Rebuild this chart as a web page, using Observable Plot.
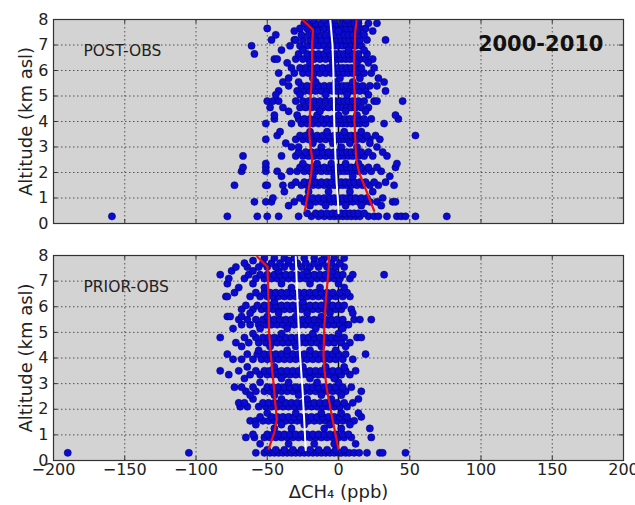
<!DOCTYPE html>
<html>
<head>
<meta charset="utf-8">
<script src="https://cdn.jsdelivr.net/npm/d3@7"></script>
<script src="https://cdn.jsdelivr.net/npm/@observablehq/plot@0.6"></script>
<style>
  html, body { margin: 0; padding: 0; background: #fff; }
  #chart svg { display: block; }
</style>
</head>
<body>
<div id="chart"></div>
<script>
// ---------- tick labels ----------
const xTicks = [-200, -150, -100, -50, 0, 50, 100, 150, 200];
const yTicks = [0, 1, 2, 3, 4, 5, 6, 7, 8];
const xGrid = [-150, -100, -50, 0, 50, 100, 150];
const yGrid = [1, 2, 3, 4, 5, 6, 7];

// ---------- POST-OBS scatter (rows of altitude, km) ----------
const postRowAlt = [0.28, 0.4, 0.85, 1.0, 1.5, 1.62, 2.05, 2.2, 2.35, 2.65, 2.8, 3.0,
  3.3, 3.45, 3.6, 3.92, 4.1, 4.25, 4.55, 4.8, 5.2, 5.4, 5.55, 5.9, 6.1, 6.45, 6.65,
  6.97, 7.2, 7.4, 7.65, 7.85, 7.98,
  0.7, 1.25, 1.85, 3.15, 4.4, 5.05, 5.7, 6.3, 6.8, 7.55];
const postRowX = [
  [-159, -78, -57, -50, -42, -28, -19, -14, -10, -6, -3, 0, 3, 6, 9, 12, 15, 21, 25, 28, 34, 41, 44, 47, 54, 76],
  [-22, -16, -12, -8, -4, -1, 2, 5, 8, 11, 14, 18],
  [-59, -51, -47, -31, -24, -20, -16, -12, -8, -5, -2, 1, 4, 7, 10, 14, 18, 22, 27, 38, 40],
  [-46, -27, -22, -18, -14, -10, -6, -3, 0, 3, 6, 9, 12, 16, 20, 31],
  [-73, -51, -50, -39, -33, -26, -22, -18, -14, -10, -6, -3, 0, 3, 6, 9, 13, 17, 22, 28, 39],
  [-30, -24, -20, -16, -12, -8, -5, -1, 2, 5, 8, 11, 15, 19, 25, 33],
  [-68, -51, -43, -34, -29, -24, -20, -16, -12, -8, -5, -2, 1, 4, 7, 10, 14, 18, 23, 30],
  [-67, -51, -27, -22, -18, -14, -10, -6, -3, 0, 3, 6, 9, 12, 16, 21, 27, 40],
  [-51, -25, -15, -5, 5, 14, 41],
  [-67, -40, -30, -25, -21, -17, -13, -9, -5, -2, 1, 4, 7, 10, 14, 18, 24, 34],
  [-28, -23, -19, -15, -11, -7, -3, 0, 3, 6, 9, 12, 16, 21, 31],
  [-33, -28, -12, 2, 13, 27],
  [-51, -30, -25, -21, -17, -13, -9, -5, -2, 1, 4, 7, 10, 13, 17, 22, 29],
  [-43, -27, -23, -19, -15, -11, -7, -3, 0, 3, 6, 9, 12, 15, 20, 26, 54],
  [-41, -20, -8, 4, 16],
  [-51, -33, -26, -22, -18, -14, -10, -6, -3, 0, 3, 6, 9, 12, 15, 19, 32],
  [-45, -28, -24, -20, -16, -12, -8, -4, -1, 2, 5, 8, 11, 14, 18, 23, 42],
  [-45, -29, -15, 0, 13, 40],
  [-48, -39, -27, -23, -19, -15, -11, -7, -3, 0, 3, 6, 9, 12, 16, 21],
  [-50, -46, -42, -30, -25, -21, -17, -13, -9, -5, -2, 1, 4, 7, 10, 14, 18, 25, 27, 45],
  [-42, -29, -24, -20, -16, -12, -8, -4, -1, 2, 5, 8, 11, 15, 19, 33],
  [-35, -26, -22, -18, -14, -10, -6, -3, 0, 3, 6, 9, 13, 17, 22, 27],
  [-39, -28, -16, -2, 10, 32],
  [-42, -31, -25, -21, -17, -13, -9, -5, -2, 1, 4, 7, 10, 14, 18, 23],
  [-33, -27, -23, -19, -15, -11, -7, -3, 0, 3, 6, 9, 12, 16, 25],
  [-45, -43, -30, -25, -21, -17, -13, -9, -5, -1, 2, 5, 8, 11, 15, 19, 24],
  [-59, -28, -22, -18, -14, -10, -6, -2, 1, 4, 7, 10, 14, 20],
  [-61, -34, -27, -22, -18, -14, -10, -6, -3, 0, 3, 6, 9, 12, 16],
  [-47, -31, -30, -25, -20, -16, -12, -8, -4, -1, 2, 5, 8, 11, 15, 20, 33],
  [-44, -26, -21, -17, -13, -9, -5, -2, 1, 4, 7, 10, 14, 18],
  [-50, -27, -22, -18, -14, -10, -6, -3, 0, 3, 6, 9, 12, 15, 19],
  [-24, -20, -16, -12, -8, -4, -1, 2, 5, 8, 11, 14, 21, 27],
  [-18, -10, -2, 6, 14],
  [-35, -20, -9, 5, 16, 30],
  [-38, -21, -7, 8, 24],
  [-40, -18, -3, 10, 36],
  [-37, -18, -4, 8, 22],
  [-35, -13, 5, 19],
  [-44, -27, -9, 6, 21],
  [-35, -18, 1, 15, 28],
  [-36, -20, -4, 13, 21],
  [-40, -25, -8, 7, 18],
  [-31, -15, 0, 13, 24]
];

// ---------- PRIOR-OBS scatter ----------
const priorRowAlt = [0.3, 0.42, 0.9, 1.02, 1.25, 1.55, 1.7, 1.85, 2.1, 2.25, 2.4, 2.7, 2.86, 3.05,
  3.35, 3.5, 3.65, 3.95, 4.15, 4.3, 4.6, 4.8, 4.95, 5.3, 5.5, 5.62, 5.9, 6.05, 6.2,
  6.4, 6.55, 6.9, 7.1, 7.25, 7.4, 7.55, 7.7, 7.9,
  0.65, 1.4, 2.55, 3.2, 4.45, 5.15, 5.75, 6.75, 7.8];
const priorRowX = [
  [-190, -105, -58, -52, -48, -45, -42, -39, -36, -33, -30, -27, -24, -21, -18, -15, -12, -9, -6, -3, 0, 2, 5, 7.5, 11, 14.5, 20, 29, 31, 47],
  [-50, -44, -38, -32, -26, -20, -14, -8, -2, 4],
  [-65, -59, -52, -48, -44, -40, -36, -32, -28, -24, -20, -16, -12, -8, -4, 0, 4, 9, 23],
  [-60, -50, -46, -42, -38, -34, -30, -26, -22, -18, -14, -10, -6, -2, 3, 7],
  [-45, -33, -10, 2, 22],
  [-62, -58, -53, -49, -45, -41, -37, -33, -29, -25, -21, -17, -13, -9, -5, -1, 3, 7, 11],
  [-55, -47, -43, -39, -35, -31, -27, -23, -19, -15, -11, -7, -3, 1, 6, 16],
  [-50, -30, -12, 2, 14],
  [-69, -64, -56, -51, -47, -43, -39, -35, -31, -27, -23, -19, -15, -11, -7, -3, 1, 6],
  [-70, -66, -53, -49, -45, -41, -37, -33, -29, -25, -21, -17, -13, -9, -5, -1, 4, 10],
  [-60, -40, -22, -5, 14],
  [-65, -58, -52, -48, -44, -40, -36, -32, -28, -24, -20, -16, -12, -8, -4, 0, 5, 16],
  [-73, -68, -60, -50, -46, -42, -38, -34, -30, -26, -22, -18, -14, -10, -6, -2, 3, 9],
  [-55, -35, -15, 0],
  [-77, -62, -55, -50, -46, -42, -38, -34, -30, -26, -22, -18, -14, -10, -6, -2, 2, 8],
  [-83, -70, -58, -52, -48, -44, -40, -36, -32, -28, -24, -20, -16, -12, -8, -4, 0, 5, 12],
  [-64, -45, -25, -9, 4],
  [-74, -68, -60, -54, -50, -46, -42, -38, -34, -30, -26, -22, -18, -14, -10, -6, -2, 3, 10],
  [-78, -64, -57, -52, -48, -44, -40, -36, -32, -28, -24, -20, -16, -12, -8, -4, 0, 5, 19],
  [-56, -36, -20, -2],
  [-72, -63, -56, -51, -47, -43, -39, -35, -31, -27, -23, -19, -15, -11, -7, -3, 2, 8],
  [-83, -66, -58, -53, -49, -45, -41, -37, -33, -29, -25, -21, -17, -13, -9, -5, -1, 4, 13, 16],
  [-60, -40, -18, 0],
  [-68, -62, -56, -51, -47, -43, -39, -35, -31, -27, -23, -19, -15, -11, -7, -3, 1, 5, 7],
  [-70, -64, -58, -53, -49, -45, -41, -37, -33, -29, -25, -21, -17, -13, -9, -5, -1, 3, 11, 15, 23],
  [-78, -76, -68, -50, -30, -12],
  [-68, -60, -54, -50, -46, -42, -38, -34, -30, -26, -22, -18, -14, -10, -6, -2, 2, 9],
  [-65, -57, -52, -48, -44, -40, -36, -32, -28, -24, -20, -16, -12, -8, -4, 0, 4],
  [-45, -25, -8],
  [-79, -78, -62, -55, -50, -46, -42, -38, -34, -30, -26, -22, -18, -14, -10, -6, -2, 3, 8],
  [-73, -58, -52, -48, -44, -40, -36, -32, -28, -24, -20, -16, -12, -8, -4, 1, 6],
  [-78, -60, -40, -20, 0],
  [-77, -66, -58, -52, -47, -43, -39, -35, -31, -27, -23, -19, -15, -11, -7, -3, 1, 8],
  [-83, -63, -55, -50, -45, -41, -37, -33, -29, -25, -21, -17, -13, -9, -5, -1, 3, 10, 32],
  [-75, -60, -42, -22, -4],
  [-72, -64, -56, -50, -44, -38, -32, -26, -20, -14, -8, -2, 4],
  [-66, -53, -47, -41, -35, -29, -23, -17, -11, -5, 1],
  [-52, -45, -38, -31, -24, -17, -10, -3, 4],
  [-55, -35, -17, -3, 12],
  [-58, -40, -24, -6, 8],
  [-62, -45, -28, -12, 2],
  [-66, -40, -20, -3],
  [-68, -48, -30, -12, 5],
  [-74, -55, -36, -16, 3],
  [-62, -42, -22, -6, 10],
  [-70, -52, -33, -13, 4],
  [-60, -35, -12]
];

// ---------- percentile / median profiles ----------
const postLoAlt = [0.5, 1.0, 1.5, 2.0, 2.5, 3.0, 3.5, 4.0, 4.5, 5.0, 5.5, 6.0, 6.5, 7.0, 7.5, 7.6, 8.0];
const postLoX   = [-23.6, -22, -20.5, -19, -18.5, -19.5, -20.5, -20, -20, -19.5, -19, -18.5, -18.5, -18.5, -18, -18, -25.5];
const postHiAlt = [0.5, 1.0, 1.5, 2.0, 2.5, 3.0, 3.5, 4.0, 4.5, 5.0, 5.5, 6.0, 6.5, 7.0, 7.5, 8.0];
const postHiX   = [25, 21.5, 18, 14.5, 12.5, 12, 11.7, 11.2, 11.5, 11.5, 11, 11, 11, 11.5, 11.7, 12.8];
const postMedAlt = [0.4, 1.0, 1.5, 2.0, 3.0, 4.0, 5.0, 6.0, 7.0, 8.0];
const postMedX   = [0, -0.5, -1.2, -1.7, -2.4, -3, -3.3, -3.6, -4.2, -5.8];

const priorLoAlt = [0.45, 1.1, 1.6, 2.2, 2.8, 3.5, 4.1, 5.0, 6.25, 7.55, 7.95];
const priorLoX   = [-49, -45, -43.3, -44.3, -45.2, -46.5, -47.5, -48.7, -49.1, -49.8, -57];
const priorHiAlt = [0.45, 1.0, 1.6, 2.2, 2.8, 3.5, 4.1, 5.0, 6.25, 7.4, 7.95];
const priorHiX   = [0, -2, -4.2, -6.2, -8.2, -9.8, -10.5, -10.1, -8.9, -7, -6.6];
const priorMedAlt = [0.4, 1.6, 2.8, 4.1, 6.25, 7.95];
const priorMedX   = [-23, -24.1, -25.3, -27, -28.8, -30];

// ---------- build ----------
const rows = (alts, xs) => alts.flatMap((a, i) => xs[i].map(x => ({x, y: a})));
const prof = (alts, xs) => alts.map((a, i) => ({x: xs[i], y: a}));

const FONT = "DejaVu Sans";
const W = 635, ML = 53, MR = 12;

function panel({pts, lo, hi, med, label, title, height, mt, mb, bottomAxis}) {
  const ph = height - mt - mb;
  const pw = W - ML - MR;
  const marks = [
    Plot.frame({fill: "#d3d3d3"}),
    Plot.ruleX(xGrid, {x: d => d, stroke: "#333", strokeWidth: 0.8, strokeDasharray: "1.5,2.5"}),
    Plot.ruleY(yGrid, {y: d => d, stroke: "#333", strokeWidth: 0.8, strokeDasharray: "1.5,2.5"}),
    Plot.ruleX([0], {x: d => d, stroke: "#000", strokeWidth: 1.5}),
    Plot.dot(pts, {x: "x", y: "y", r: 3.6, fill: "#0a0ad2", stroke: "#00006a", strokeWidth: 0.5, clip: true}),
    Plot.line(lo, {x: "x", y: "y", stroke: "#f01010", strokeWidth: 2.2, clip: true}),
    Plot.line(hi, {x: "x", y: "y", stroke: "#f01010", strokeWidth: 2.2, clip: true}),
    Plot.line(med, {x: "x", y: "y", stroke: "#ffffff", strokeWidth: 2, clip: true}),
    Plot.tickX(xTicks, {x: d => d, insetTop: ph - 4, stroke: "#333"}),
    Plot.tickX(xTicks, {x: d => d, insetBottom: ph - 4, stroke: "#333"}),
    Plot.tickY(yTicks, {y: d => d, insetRight: pw - 4, stroke: "#333"}),
    Plot.tickY(yTicks, {y: d => d, insetLeft: pw - 4, stroke: "#333"}),
    Plot.frame({stroke: "#333", strokeWidth: 1.2}),
    Plot.axisY(yTicks, {tickSize: 0, tickPadding: 5, fontSize: 16, label: null}),
    Plot.text([label], {frameAnchor: "top-left", dx: 30, dy: 25, textAnchor: "start", fontSize: 15.5, fill: "#222"}),
    Plot.text(["Altitude (km asl)"], {frameAnchor: "left", dx: -27, rotate: -90, textAnchor: "middle", fontSize: 18, fill: "#222"})
  ];
  if (title) marks.push(Plot.text([title], {frameAnchor: "top-right", dx: -20, dy: 17, textAnchor: "end", fontSize: 21, fontWeight: "bold", fill: "#111"}));
  if (bottomAxis) {
    marks.push(Plot.axisX(xTicks, {tickSize: 0, tickPadding: 3, fontSize: 16, label: null}));
    marks.push(Plot.text(["ΔCH₄ (ppb)"], {frameAnchor: "bottom", dy: 37, fontSize: 18, fill: "#222"}));
  }
  return Plot.plot({
    width: W, height,
    marginLeft: ML, marginRight: MR, marginTop: mt, marginBottom: mb,
    x: {domain: [-200, 200], axis: bottomAxis ? undefined : null},
    y: {domain: [0, 8]},
    style: {fontFamily: FONT, color: "#222", background: "transparent", overflow: "visible"},
    marks
  });
}

const topPanel = panel({
  pts: rows(postRowAlt, postRowX),
  lo: prof(postLoAlt, postLoX), hi: prof(postHiAlt, postHiX), med: prof(postMedAlt, postMedX),
  label: "POST-OBS", title: "2000-2010", height: 240, mt: 19, mb: 17, bottomAxis: false
});
const bottomPanel = panel({
  pts: rows(priorRowAlt, priorRowX),
  lo: prof(priorLoAlt, priorLoX), hi: prof(priorHiAlt, priorHiX), med: prof(priorMedAlt, priorMedX),
  label: "PRIOR-OBS", title: null, height: 265, mt: 15, mb: 45, bottomAxis: true
});
document.getElementById("chart").append(topPanel, bottomPanel);
</script>
</body>
</html>
